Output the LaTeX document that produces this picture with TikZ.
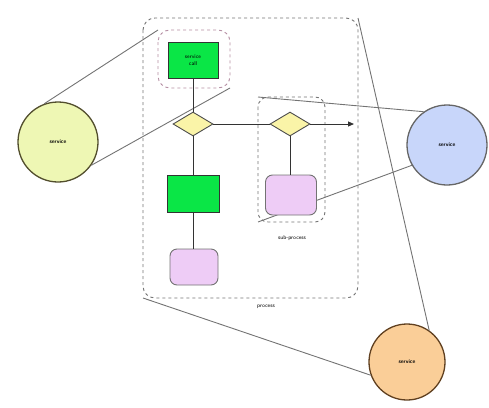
\documentclass[tikz,border=0pt]{standalone}
\usepackage{tikz}
\usetikzlibrary{shapes.geometric,arrows.meta}
\definecolor{cyel}{RGB}{238,247,180}
\definecolor{cblue}{RGB}{200,214,250}
\definecolor{corange}{RGB}{250,206,152}
\definecolor{cgreen}{RGB}{10,230,70}
\definecolor{cpink}{RGB}{238,204,246}
\definecolor{cdia}{RGB}{250,244,168}
\tikzset{
  x=1pt,y=-1pt,
  svc/.style={circle,draw=black!60,line width=1.3pt,minimum size=80pt,inner sep=0pt,font=\sffamily\bfseries\fontsize{5.5}{6.5}\selectfont},
  greenbox/.style={rectangle,draw=black!80,fill=cgreen,line width=0.9pt,inner sep=0pt,font=\sffamily\fontsize{5.5}{6.5}\selectfont,align=center},
  pinkbox/.style={rectangle,rounded corners=7pt,draw=black!55,fill=cpink,line width=0.9pt,minimum width=48pt,minimum height=36pt},
  dia/.style={diamond,draw=black!70,fill=cdia,line width=0.9pt,minimum width=40pt,minimum height=24pt,inner sep=0pt,aspect=1.7},
  grp/.style={draw=black!55,dashed,line width=0.9pt,rounded corners=12pt},
  conn/.style={draw=black!80,line width=1pt},
  zoomline/.style={draw=black!55,line width=0.9pt},
  lbl/.style={font=\sffamily\fontsize{5.5}{6.5}\selectfont}
}
\begin{document}
\begin{tikzpicture}
\useasboundingbox (0,0) rectangle (489,407);
% groups
\draw[grp] (143,18) rectangle (358,298);
\coordinate (pTR) at (358,18);
\coordinate (pBL) at (143,298);
\draw[grp,draw=magenta!40!black!55] (158,30) rectangle (230,88);
\coordinate (mTL) at (158,30);
\coordinate (mBR) at (230,88);
\draw[grp,rounded corners=10pt] (258,97) rectangle (325,222);
\coordinate (sTL) at (258,97);
\coordinate (sBL) at (258,222);
\node[lbl] (sublbl) at (292,238) {sub-process};
\node[lbl] (proclbl) at (266,307) {process};
% circles
\node[svc,fill=cyel,draw=black!55!olive] (lc) at (58,142) {service};
\node[svc,fill=cblue] (bc) at (447,145) {service};
\node[svc,fill=corange,draw=black!50!brown,minimum size=76pt] (oc) at (407,362) {service};
% zoom lines
\draw[zoomline] (mTL) -- (lc.110);
\draw[zoomline] (mBR) -- (lc.-35);
\draw[zoomline] (sTL) -- (bc.125);
\draw[zoomline] (sBL) -- (bc.-150);
\draw[zoomline] (pTR) -- (oc.55);
\draw[zoomline] (pBL) -- (oc.200);
% nodes
\node[greenbox,minimum width=50pt,minimum height=36pt] (g1) at (193,60) {service\\call};
\node[dia] (d1) at (193,124) {};
\node[dia] (d2) at (290,124) {};
\coordinate (end) at (354,124);
\node[greenbox,minimum width=52pt,minimum height=37pt] (g2) at (193,194) {};
\node[pinkbox] (p1) at (194,267) {};
\node[pinkbox,minimum width=51pt,minimum height=40pt] (p2) at (291,195) {};
% connectors
\draw[conn] (g1) -- (d1);
\draw[conn] (d1) -- (g2);
\draw[conn] (g2.south) -- (g2.south |- p1.north);
\draw[conn] (d1) -- (d2);
\draw[conn,-{Triangle[length=6pt,width=5pt]}] (d2) -- (end);
\draw[conn] (d2.south) -- (d2.south |- p2.north);
\end{tikzpicture}
\end{document}
